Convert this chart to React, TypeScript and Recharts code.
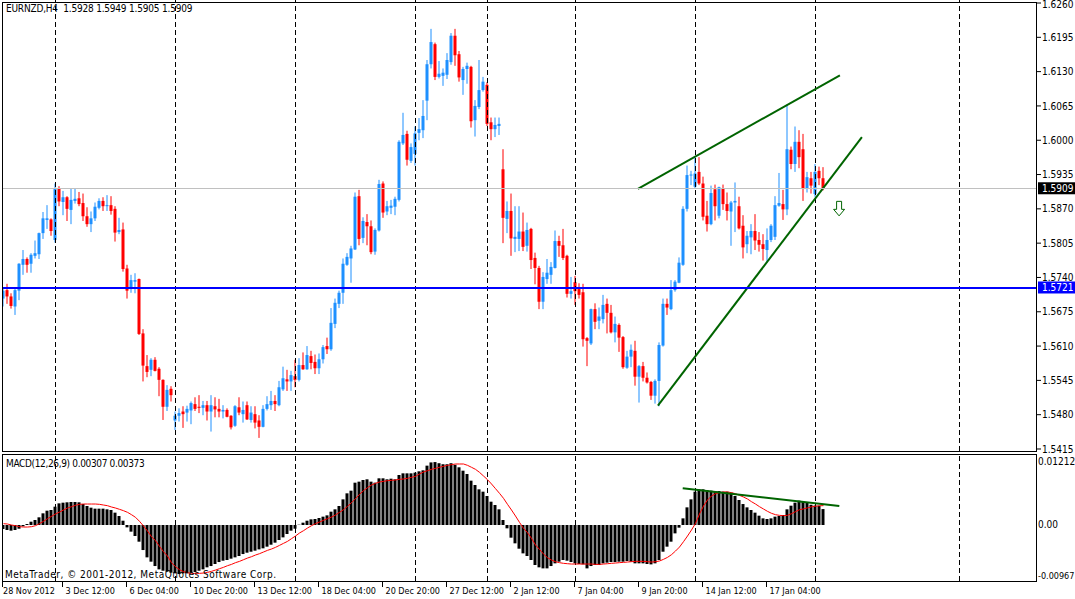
import React from 'react';
import { ComposedChart, Bar, Line, XAxis, YAxis, ReferenceLine, ReferenceDot } from 'recharts';

const FONT = "'DejaVu Sans Condensed', 'Liberation Sans', Arial, sans-serif";
const BULL = '#1E90FF';
const BEAR = '#FF0000';
const TREND = '#006400';

// ---- price data (EURNZD H4), one entry per bar ----
const opens = [
  1.5700,1.5716,1.5704,1.5685,1.5715,1.5764,1.5775,1.5766,1.5781,1.5784,
  1.5824,1.5849,1.5850,1.5811,1.5909,1.5883,1.5892,1.5868,1.5885,1.5890,
  1.5881,1.5856,1.5841,1.5852,1.5872,1.5885,1.5876,1.5877,1.5870,1.5826,
  1.5831,1.5757,1.5718,1.5732,1.5737,1.5634,1.5572,1.5565,1.5584,1.5567,
  1.5546,1.5495,1.5529,1.5469,1.5478,1.5486,1.5484,1.5488,1.5500,1.5495,
  1.5493,1.5498,1.5486,1.5496,1.5491,1.5486,1.5489,1.5478,1.5459,1.5494,
  1.5481,1.5498,1.5470,1.5481,1.5469,1.5457,1.5491,1.5498,1.5506,1.5498,
  1.5528,1.5547,1.5543,1.5553,1.5546,1.5574,1.5566,1.5591,1.5580,1.5568,
  1.5585,1.5610,1.5604,1.5652,1.5690,1.5711,1.5764,1.5776,1.5793,1.5894,
  1.5815,1.5845,1.5837,1.5789,1.5829,1.5918,1.5865,1.5872,1.5874,1.5887,
  1.5994,1.6012,1.5961,1.5974,1.6014,1.6019,1.6075,1.6144,1.6182,1.6120,
  1.6122,1.6124,1.6148,1.6198,1.6163,1.6114,1.6135,1.6139,1.6038,1.6063,
  1.6095,1.6105,1.6034,1.6021,1.6027,1.5945,1.5851,1.5866,1.5813,1.5813,
  1.5827,1.5800,1.5832,1.5777,1.5758,1.5694,1.5737,1.5745,1.5758,1.5809,
  1.5801,1.5781,1.5709,1.5731,1.5718,1.5712,1.5625,1.5615,1.5680,1.5658,
  1.5661,1.5690,1.5673,1.5636,1.5650,1.5627,1.5569,1.5590,1.5601,1.5552,
  1.5572,1.5550,1.5542,1.5516,1.5544,1.5611,1.5690,1.5680,1.5716,1.5730,
  1.5764,1.5870,1.5934,1.5912,1.5940,1.5918,1.5857,1.5841,1.5907,1.5857,
  1.5908,1.5879,1.5865,1.5882,1.5875,1.5838,1.5803,1.5816,1.5828,1.5811,
  1.5803,1.5792,1.5811,1.5817,1.5876,1.5879,1.5869,1.5982,1.5955,1.5997,
  1.5983,1.5908,1.5928,1.5898,1.5942,1.5928,
];
const highs = [
  1.5720,1.5728,1.5710,1.5720,1.5767,1.5792,1.5778,1.5786,1.5810,1.5825,
  1.5864,1.5877,1.5852,1.5918,1.5913,1.5904,1.5894,1.5909,1.5909,1.5902,
  1.5899,1.5873,1.5865,1.5882,1.5890,1.5892,1.5896,1.5894,1.5875,1.5853,
  1.5844,1.5764,1.5745,1.5748,1.5738,1.5642,1.5593,1.5587,1.5589,1.5570,
  1.5547,1.5536,1.5534,1.5486,1.5492,1.5496,1.5497,1.5505,1.5513,1.5517,
  1.5506,1.5506,1.5517,1.5513,1.5510,1.5498,1.5492,1.5479,1.5498,1.5513,
  1.5505,1.5505,1.5496,1.5496,1.5479,1.5498,1.5515,1.5525,1.5517,1.5544,
  1.5571,1.5565,1.5563,1.5584,1.5587,1.5598,1.5610,1.5601,1.5594,1.5596,
  1.5612,1.5626,1.5682,1.5700,1.5715,1.5776,1.5786,1.5800,1.5901,1.5906,
  1.5854,1.5860,1.5848,1.5833,1.5925,1.5922,1.5885,1.5887,1.5893,1.6000,
  1.6052,1.6018,1.5994,1.6026,1.6042,1.6076,1.6152,1.6211,1.6185,1.6150,
  1.6136,1.6165,1.6203,1.6211,1.6169,1.6139,1.6147,1.6141,1.6076,1.6152,
  1.6120,1.6110,1.6043,1.6043,1.6043,1.5983,1.5884,1.5899,1.5875,1.5875,
  1.5863,1.5844,1.5834,1.5787,1.5762,1.5750,1.5775,1.5769,1.5829,1.5819,
  1.5832,1.5783,1.5741,1.5743,1.5729,1.5728,1.5627,1.5681,1.5691,1.5683,
  1.5707,1.5700,1.5688,1.5666,1.5653,1.5629,1.5601,1.5613,1.5620,1.5574,
  1.5580,1.5560,1.5544,1.5547,1.5617,1.5700,1.5700,1.5735,1.5735,1.5778,
  1.5875,1.5952,1.5942,1.5970,1.5968,1.5931,1.5885,1.5914,1.5916,1.5912,
  1.5916,1.5901,1.5885,1.5920,1.5893,1.5858,1.5828,1.5841,1.5860,1.5826,
  1.5822,1.5833,1.5841,1.5894,1.5938,1.5906,1.6067,1.5988,1.6026,1.6019,
  1.6012,1.5940,1.5940,1.5955,1.5950,1.5949,
];
const lows = [
  1.5685,1.5690,1.5681,1.5669,1.5697,1.5745,1.5749,1.5749,1.5776,1.5775,
  1.5813,1.5832,1.5819,1.5806,1.5875,1.5858,1.5847,1.5841,1.5880,1.5875,
  1.5847,1.5836,1.5826,1.5847,1.5869,1.5866,1.5866,1.5859,1.5808,1.5822,
  1.5751,1.5700,1.5711,1.5710,1.5631,1.5543,1.5551,1.5553,1.5562,1.5515,
  1.5470,1.5487,1.5505,1.5451,1.5467,1.5455,1.5467,1.5462,1.5487,1.5483,
  1.5479,1.5469,1.5448,1.5475,1.5475,1.5473,1.5475,1.5452,1.5457,1.5479,
  1.5465,1.5470,1.5465,1.5454,1.5436,1.5456,1.5488,1.5489,1.5487,1.5496,
  1.5525,1.5525,1.5525,1.5532,1.5543,1.5565,1.5565,1.5566,1.5557,1.5557,
  1.5577,1.5595,1.5601,1.5644,1.5682,1.5690,1.5762,1.5730,1.5792,1.5801,
  1.5805,1.5801,1.5784,1.5783,1.5827,1.5853,1.5858,1.5860,1.5858,1.5884,
  1.5991,1.5952,1.5957,1.5952,1.6000,1.6004,1.6038,1.6136,1.6114,1.6117,
  1.6103,1.6116,1.6143,1.6141,1.6111,1.6086,1.6107,1.6024,1.6007,1.6059,
  1.6092,1.6027,1.6000,1.6006,1.6010,1.5805,1.5824,1.5781,1.5788,1.5790,
  1.5790,1.5789,1.5756,1.5727,1.5680,1.5680,1.5728,1.5728,1.5757,1.5779,
  1.5773,1.5702,1.5700,1.5688,1.5700,1.5609,1.5572,1.5612,1.5642,1.5642,
  1.5653,1.5634,1.5634,1.5617,1.5599,1.5567,1.5567,1.5570,1.5535,1.5503,
  1.5543,1.5539,1.5508,1.5501,1.5496,1.5609,1.5669,1.5678,1.5713,1.5729,
  1.5762,1.5865,1.5915,1.5909,1.5915,1.5848,1.5827,1.5839,1.5848,1.5852,
  1.5868,1.5848,1.5800,1.5826,1.5831,1.5776,1.5786,1.5784,1.5792,1.5789,
  1.5772,1.5768,1.5807,1.5811,1.5874,1.5849,1.5858,1.5945,1.5940,1.5947,
  1.5885,1.5901,1.5899,1.5893,1.5915,1.5905,
];
const closes = [
  1.5715,1.5704,1.5686,1.5716,1.5766,1.5775,1.5764,1.5783,1.5786,1.5824,
  1.5852,1.5852,1.5828,1.5908,1.5884,1.5892,1.5870,1.5887,1.5889,1.5879,
  1.5856,1.5841,1.5852,1.5874,1.5885,1.5875,1.5877,1.5866,1.5825,1.5830,
  1.5756,1.5715,1.5735,1.5735,1.5633,1.5573,1.5561,1.5584,1.5563,1.5546,
  1.5495,1.5527,1.5517,1.5478,1.5483,1.5481,1.5491,1.5502,1.5491,1.5493,
  1.5498,1.5486,1.5498,1.5490,1.5486,1.5489,1.5476,1.5456,1.5496,1.5484,
  1.5489,1.5471,1.5484,1.5465,1.5457,1.5491,1.5500,1.5506,1.5500,1.5532,
  1.5549,1.5543,1.5555,1.5546,1.5574,1.5566,1.5593,1.5578,1.5568,1.5585,
  1.5608,1.5604,1.5654,1.5692,1.5711,1.5766,1.5779,1.5795,1.5893,1.5813,
  1.5847,1.5837,1.5788,1.5830,1.5917,1.5863,1.5875,1.5876,1.5889,1.5997,
  1.6010,1.5963,1.5987,1.6013,1.6021,1.6046,1.6144,1.6186,1.6120,1.6126,
  1.6128,1.6152,1.6198,1.6161,1.6119,1.6135,1.6141,1.6036,1.6065,1.6095,
  1.6111,1.6031,1.6021,1.6029,1.6031,1.5853,1.5866,1.5814,1.5817,1.5827,
  1.5798,1.5830,1.5773,1.5758,1.5694,1.5741,1.5749,1.5760,1.5809,1.5800,
  1.5777,1.5709,1.5714,1.5714,1.5707,1.5623,1.5620,1.5680,1.5656,1.5666,
  1.5688,1.5673,1.5636,1.5652,1.5626,1.5570,1.5590,1.5603,1.5552,1.5572,
  1.5550,1.5541,1.5516,1.5544,1.5612,1.5690,1.5683,1.5716,1.5732,1.5768,
  1.5870,1.5934,1.5935,1.5937,1.5918,1.5855,1.5841,1.5900,1.5875,1.5911,
  1.5879,1.5866,1.5882,1.5885,1.5833,1.5797,1.5819,1.5828,1.5810,1.5802,
  1.5794,1.5811,1.5838,1.5877,1.5881,1.5869,1.5983,1.5955,1.5997,1.5968,
  1.5908,1.5930,1.5914,1.5940,1.5928,1.5909,
];

// ---- MACD(12,26,9): histogram (main) and signal line ----
const macdMain = [
  -0.00077,-0.00096,-0.00109,-0.00096,-0.00071,-0.00026,0.00019,0.00064,0.00096,0.00148,
  0.00225,0.00276,0.00289,0.00353,0.00417,0.00430,0.00437,0.00443,0.00443,0.00437,
  0.00404,0.00366,0.00334,0.00315,0.00315,0.00315,0.00302,0.00289,0.00238,0.00173,
  0.00083,-0.00045,-0.00128,-0.00212,-0.00321,-0.00482,-0.00623,-0.00706,-0.00790,-0.00854,
  -0.00880,-0.00899,-0.00918,-0.00931,-0.00944,-0.00931,-0.00931,-0.00918,-0.00905,-0.00880,
  -0.00854,-0.00815,-0.00790,-0.00751,-0.00713,-0.00687,-0.00674,-0.00648,-0.00623,-0.00597,
  -0.00559,-0.00533,-0.00514,-0.00494,-0.00469,-0.00449,-0.00417,-0.00379,-0.00340,-0.00289,
  -0.00238,-0.00173,-0.00109,-0.00071,0.00006,0.00045,0.00083,0.00109,0.00116,0.00135,
  0.00161,0.00186,0.00257,0.00302,0.00366,0.00494,0.00610,0.00661,0.00815,0.00835,
  0.00867,0.00880,0.00835,0.00815,0.00899,0.00899,0.00880,0.00892,0.00880,0.00963,
  0.00995,0.00995,0.00995,0.01008,0.01034,0.01053,0.01143,0.01205,0.01212,0.01190,
  0.01170,0.01170,0.01190,0.01160,0.01111,0.01046,0.00982,0.00854,0.00770,0.00687,
  0.00642,0.00559,0.00449,0.00385,0.00302,0.00096,-0.00064,-0.00244,-0.00353,-0.00456,
  -0.00546,-0.00597,-0.00674,-0.00770,-0.00815,-0.00835,-0.00835,-0.00790,-0.00738,-0.00706,
  -0.00674,-0.00687,-0.00713,-0.00738,-0.00751,-0.00758,-0.00835,-0.00790,-0.00770,-0.00770,
  -0.00738,-0.00725,-0.00713,-0.00713,-0.00706,-0.00706,-0.00693,-0.00706,-0.00738,-0.00738,
  -0.00738,-0.00751,-0.00758,-0.00738,-0.00674,-0.00514,-0.00417,-0.00321,-0.00161,-0.00051,
  0.00128,0.00340,0.00494,0.00642,0.00687,0.00687,0.00674,0.00661,0.00655,0.00655,
  0.00642,0.00642,0.00623,0.00559,0.00482,0.00404,0.00340,0.00289,0.00238,0.00180,
  0.00128,0.00116,0.00128,0.00161,0.00173,0.00193,0.00302,0.00372,0.00430,0.00469,
  0.00449,0.00430,0.00390,0.00375,0.00372,0.00307,
];
const macdSignal = [
  0.00026,0.00019,0.00000,-0.00013,-0.00032,-0.00039,-0.00039,-0.00032,-0.00013,0.00026,
  0.00071,0.00122,0.00167,0.00212,0.00250,0.00289,0.00327,0.00353,0.00379,0.00398,
  0.00404,0.00404,0.00404,0.00404,0.00398,0.00385,0.00372,0.00347,0.00327,0.00302,
  0.00276,0.00244,0.00199,0.00148,0.00071,-0.00019,-0.00116,-0.00225,-0.00302,-0.00411,
  -0.00514,-0.00597,-0.00725,-0.00803,-0.00860,-0.00899,-0.00918,-0.00931,-0.00931,-0.00931,
  -0.00924,-0.00912,-0.00892,-0.00867,-0.00841,-0.00815,-0.00783,-0.00758,-0.00725,-0.00700,
  -0.00668,-0.00636,-0.00610,-0.00578,-0.00552,-0.00520,-0.00488,-0.00462,-0.00430,-0.00392,
  -0.00353,-0.00315,-0.00263,-0.00212,-0.00154,-0.00109,-0.00058,-0.00013,0.00026,0.00058,
  0.00090,0.00122,0.00154,0.00193,0.00244,0.00295,0.00360,0.00430,0.00507,0.00591,
  0.00661,0.00719,0.00770,0.00803,0.00828,0.00841,0.00854,0.00860,0.00867,0.00880,
  0.00886,0.00899,0.00918,0.00937,0.00982,0.01021,0.01046,0.01072,0.01091,0.01111,
  0.01130,0.01149,0.01162,0.01175,0.01175,0.01175,0.01149,0.01111,0.01072,0.01014,
  0.00944,0.00873,0.00790,0.00700,0.00610,0.00514,0.00398,0.00289,0.00173,0.00051,
  -0.00064,-0.00148,-0.00257,-0.00385,-0.00469,-0.00559,-0.00629,-0.00674,-0.00706,-0.00725,
  -0.00738,-0.00745,-0.00751,-0.00751,-0.00751,-0.00751,-0.00751,-0.00751,-0.00758,-0.00758,
  -0.00751,-0.00745,-0.00738,-0.00732,-0.00725,-0.00719,-0.00713,-0.00706,-0.00700,-0.00700,
  -0.00700,-0.00706,-0.00713,-0.00706,-0.00693,-0.00661,-0.00623,-0.00571,-0.00501,-0.00424,
  -0.00321,-0.00212,-0.00096,0.00032,0.00212,0.00366,0.00482,0.00559,0.00603,0.00623,
  0.00636,0.00636,0.00623,0.00603,0.00571,0.00539,0.00501,0.00449,0.00404,0.00353,
  0.00308,0.00263,0.00225,0.00199,0.00186,0.00180,0.00186,0.00218,0.00257,0.00295,
  0.00310,0.00330,0.00350,0.00362,0.00370,0.00373,
];

// ---- axes, labels and annotations ----
const priceTicks = [1.6260,1.6195,1.6130,1.6065,1.6000,1.5935,1.5870,1.5805,1.5740,1.5675,1.5610,1.5545,1.5480,1.5415];
const priceTags = [
  { price: 1.5909, bg: '#000000', line: '#C0C0C0', lineWidth: 1 },
  { price: 1.5721, bg: '#0000FF', line: '#0000FF', lineWidth: 2 },
];
const macdTicks = [0.01212, 0, -0.00967];
const timeTickIdx = [0, 15, 31, 47, 63, 79, 95, 111, 127, 143, 159, 175, 191];
const timeTickText = ['28 Nov 2012','3 Dec 12:00','6 Dec 04:00','10 Dec 20:00','13 Dec 12:00','18 Dec 04:00','20 Dec 20:00','27 Dec 12:00','2 Jan 12:00','7 Jan 04:00','9 Jan 20:00','14 Jan 12:00','17 Jan 04:00'];
const weekSeparators = [13, 43, 73, 103, 121, 143, 173, 203, 239];
const upperTrend = [{ x: 158.6, y: 1.5908 }, { x: 209.1, y: 1.6123 }];
const lowerTrend = [{ x: 163.6, y: 1.5497 }, { x: 214.6, y: 1.6006 }];
const macdTrend = [{ x: 169.8, y: 0.00707 }, { x: 208.95, y: 0.00366 }];
const sellArrow = { x: 208.9, y: 1.5870 };

const X_DOMAIN: [number, number] = [-0.375, 258.375];
const PRICE_DOMAIN: [number, number] = [1.54112, 1.62657];
const MACD_DOMAIN: [number, number] = [-0.01078, 0.01348];

const rows = opens.map((open, i) => ({
  i,
  open,
  high: highs[i],
  low: lows[i],
  close: closes[i],
  macd: macdMain[i],
  signal: macdSignal[i],
}));

const Candle = (props: any) => {
  const { x, y, width, height, payload } = props;
  if (x == null || y == null || !payload) return null;
  const { open, close, high, low } = payload;
  const cx = x + width / 2;
  const span = high - low;
  const py = (p: number) => (span > 0 ? y + ((high - p) / span) * height : y);
  const color = close >= open ? BULL : BEAR;
  const top = py(Math.max(open, close));
  const bot = py(Math.min(open, close));
  return (
    <g>
      <line x1={cx} x2={cx} y1={y} y2={y + Math.max(height, 1)} stroke={color} strokeWidth={1} />
      <rect x={cx - 1.5} y={top} width={3} height={Math.max(1, bot - top)} fill={color} />
    </g>
  );
};

const PriceTick = (props: any) => {
  const { x, y, payload } = props;
  const v: number = payload.value;
  const label = v.toFixed(4);
  const tag = priceTags.find((t) => Math.abs(t.price - v) < 1e-9);
  if (tag) {
    const ly = tag.lineWidth === 2 ? Math.round(y + 0.5) : Math.round(y) + 0.5;
    return (
      <g>
        <line x1={3} x2={x - 5} y1={ly} y2={ly} stroke={tag.line} strokeWidth={tag.lineWidth} />
        <rect x={x - 4} y={y - 6} width={38} height={12} fill={tag.bg} />
        <text x={x} y={y} dy={3.6} fill="#fff" fontSize={10} fontFamily={FONT}>{label}</text>
      </g>
    );
  }
  const shift = y < 6 ? 1.5 : 0;
  return (
    <g>
      <line x1={x - 5} x2={x - 1} y1={y} y2={y} stroke="#000" />
      <text x={x} y={y + shift} dy={3.6} fill="#000" fontSize={10} fontFamily={FONT}>{label}</text>
    </g>
  );
};

const MacdTick = (props: any) => {
  const { x, y, payload } = props;
  const v: number = payload.value;
  const label = v === 0 ? '0.00' : v.toFixed(5);
  const small = v < 0;
  return (
    <text x={x - 4} y={y} dy={3.4} fill="#000" fontSize={small ? 9 : 10} fontFamily={FONT}>{label}</text>
  );
};

const TimeTick = (props: any) => {
  const { x, y, payload } = props;
  const k = timeTickIdx.indexOf(payload.value);
  const label = timeTickText[k] ?? '';
  const tx = k === 0 ? 3 : x + 2;
  return (
    <g>
      <line x1={x - 1} x2={x - 1} y1={y + 1} y2={y + 6} stroke="#000" />
      <text x={tx} y={y + 13} fill="#000" fontSize={9} fontFamily={FONT}>{label}</text>
    </g>
  );
};

const ArrowShape = (props: any) => {
  const { cx, cy } = props;
  if (cx == null || cy == null) return null;
  const d = `M${cx - 2.5},${cy - 7.5} L${cx + 2.5},${cy - 7.5} L${cx + 2.5},${cy + 0.5} L${cx + 5.5},${cy + 0.5} L${cx},${cy + 7} L${cx - 5.5},${cy + 0.5} L${cx - 2.5},${cy + 0.5} Z`;
  return <path d={d} fill="#fff" stroke={TREND} strokeWidth={1} />;
};

const textStyle: React.CSSProperties = {
  position: 'absolute',
  fontFamily: FONT,
  fontSize: 10,
  lineHeight: '12px',
  color: '#000',
  whiteSpace: 'pre',
  pointerEvents: 'none',
};

export default function App() {
  return (
    <div style={{ position: 'absolute', left: 0, top: 0, width: 1075, height: 599, background: '#fff', overflow: 'hidden' }}>
      <div style={{ position: 'absolute', left: 0, top: 0 }}>
        <ComposedChart width={1075} height={460} data={rows} margin={{ top: 0, right: 0, bottom: 9, left: 2 }}>
          <XAxis dataKey="i" type="number" domain={X_DOMAIN} allowDataOverflow hide />
          <YAxis
            orientation="right"
            type="number"
            domain={PRICE_DOMAIN}
            allowDataOverflow
            ticks={[...priceTicks, ...priceTags.map((t) => t.price)]}
            interval={0}
            width={38}
            axisLine={false}
            tickLine={false}
            tickSize={4}
            tickMargin={1}
            tick={PriceTick}
          />
          {weekSeparators.map((s) => (
            <ReferenceLine key={`w${s}`} x={s} stroke="#000" strokeDasharray="5 3" />
          ))}
          <Bar dataKey={(d: any) => [d.low, d.high]} barSize={3} shape={Candle} isAnimationActive={false} />
          <ReferenceLine segment={upperTrend} stroke={TREND} strokeWidth={2} ifOverflow="visible" />
          <ReferenceLine segment={lowerTrend} stroke={TREND} strokeWidth={2} ifOverflow="visible" />
          <ReferenceDot x={sellArrow.x} y={sellArrow.y} r={1} shape={ArrowShape} />
        </ComposedChart>
      </div>

      <div style={{ position: 'absolute', left: 0, top: 454 }}>
        <ComposedChart width={1075} height={145} data={rows} margin={{ top: 1, right: 0, bottom: 0, left: 2 }}>
          <XAxis
            dataKey="i"
            type="number"
            domain={X_DOMAIN}
            allowDataOverflow
            ticks={timeTickIdx}
            interval={0}
            height={18}
            axisLine={false}
            tickLine={false}
            tickSize={0}
            tickMargin={0}
            tick={TimeTick}
          />
          <YAxis
            orientation="right"
            type="number"
            domain={MACD_DOMAIN}
            allowDataOverflow
            ticks={macdTicks}
            interval={0}
            width={38}
            axisLine={false}
            tickLine={false}
            tickSize={4}
            tickMargin={1}
            tick={MacdTick}
          />
          {weekSeparators.map((s) => (
            <ReferenceLine key={`m${s}`} x={s} stroke="#000" strokeDasharray="5 3" />
          ))}
          <Bar dataKey="macd" barSize={3} fill="#000" isAnimationActive={false} />
          <Line dataKey="signal" type="linear" stroke="#FF0000" strokeWidth={1} dot={false} activeDot={false} isAnimationActive={false} />
          <ReferenceLine segment={macdTrend} stroke={TREND} strokeWidth={2} ifOverflow="visible" />
        </ComposedChart>
      </div>

      {/* window frames */}
      <div style={{ position: 'absolute', left: 2, top: 2, width: 1035, height: 450, border: '1px solid #000', boxSizing: 'border-box', pointerEvents: 'none' }} />
      <div style={{ position: 'absolute', left: 2, top: 454, width: 1035, height: 128, border: '1px solid #000', boxSizing: 'border-box', pointerEvents: 'none' }} />

      <div style={{ ...textStyle, left: 6, top: 3, letterSpacing: '-0.2px' }}>{'EURNZD,H4  1.5928 1.5949 1.5905 1.5909'}</div>
      <div style={{ ...textStyle, left: 6, top: 458, letterSpacing: '-0.35px' }}>{'MACD(12,26,9) 0.00307 0.00373'}</div>
      <div style={{ ...textStyle, left: 5, top: 569, letterSpacing: '0.5px' }}>{'MetaTrader, © 2001-2012, MetaQuotes Software Corp.'}</div>
    </div>
  );
}
